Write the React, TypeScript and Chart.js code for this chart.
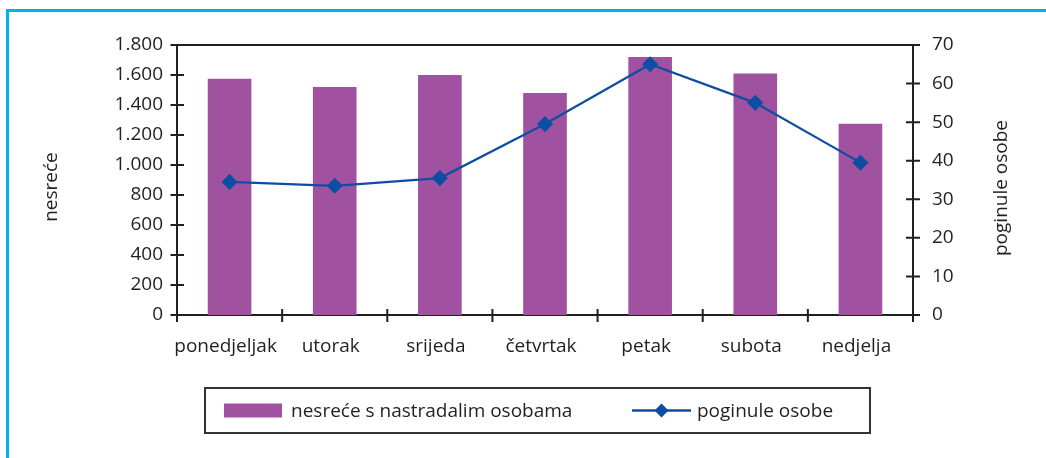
import React, { useEffect, useRef } from 'react';
import { Chart, registerables } from 'chart.js';

Chart.register(...registerables);

// ---- data ----
const days = ['ponedjeljak', 'utorak', 'srijeda', 'četvrtak', 'petak', 'subota', 'nedjelja'];
const accidents = [1575, 1520, 1600, 1480, 1720, 1610, 1275];
const deaths = [34.5, 33.5, 35.5, 49.5, 65, 55, 39.5];
const leftTicks = [0, 200, 400, 600, 800, 1000, 1200, 1400, 1600, 1800];
const rightTicks = [0, 10, 20, 30, 40, 50, 60, 70];
const leftTitle = 'nesreće';
const rightTitle = 'poginule osobe';
const barLabel = 'nesreće s nastradalim osobama';
const lineLabel = 'poginule osobe';

// ---- styles ----
const W = 1046;
const H = 458;
const PLOT = { left: 177, right: 913, top: 45, bottom: 315 };
const FONT = "'Open Sans', sans-serif";
const FONT_SIZE = 19;
const INK = '#231f20';
const BAR = '#a052a0';
const LINE = '#0d4ea3';
const FRAME = '#00b2ef';

function fmt(v: number): string {
  return String(v).replace(/\B(?=(\d{3})+(?!\d))/g, '.');
}

const axesPlugin = {
  id: 'axesFrame',
  beforeDatasetsDraw(chart: any) {
    const { ctx, chartArea: a, scales } = chart;
    const y = scales.y;
    const y1 = scales.y1;
    const x = scales.x;
    ctx.save();
    ctx.strokeStyle = INK;
    ctx.lineWidth = 2;
    ctx.beginPath();
    ctx.rect(a.left, a.top, a.right - a.left, a.bottom - a.top);
    ctx.stroke();
    ctx.beginPath();
    y.ticks.forEach((t: any) => {
      const p = y.getPixelForValue(t.value);
      ctx.moveTo(a.left - 6.5, p);
      ctx.lineTo(a.left + 7, p);
    });
    y1.ticks.forEach((t: any) => {
      const p = y1.getPixelForValue(t.value);
      ctx.moveTo(a.right - 7, p);
      ctx.lineTo(a.right + 7, p);
    });
    const n = x.ticks.length;
    const step = (x.right - x.left) / n;
    for (let i = 0; i <= n; i++) {
      const px = x.left + i * step;
      ctx.moveTo(px, a.bottom - 6);
      ctx.lineTo(px, a.bottom + 7);
    }
    ctx.stroke();
    ctx.restore();
  },
  afterDraw(chart: any) {
    const { ctx, chartArea: a } = chart;
    const midY = (a.top + a.bottom) / 2 + 7;
    ctx.save();
    ctx.fillStyle = INK;
    ctx.font = `${FONT_SIZE}px ${FONT}`;
    ctx.textAlign = 'center';
    ctx.textBaseline = 'alphabetic';
    // left title
    ctx.save();
    ctx.translate(57, midY);
    ctx.rotate(-Math.PI / 2);
    ctx.fillText(leftTitle, 0, 0);
    ctx.restore();
    // right title
    ctx.save();
    ctx.translate(1007, midY + 1);
    ctx.rotate(-Math.PI / 2);
    ctx.fillText(rightTitle, 0, 0);
    ctx.restore();

    // legend
    const ds = chart.data.datasets;
    const bx = 205, by = 388, bw = 665, bh = 45;
    ctx.strokeStyle = '#333333';
    ctx.lineWidth = 2;
    ctx.strokeRect(bx, by, bw, bh);
    const cy = by + bh / 2;
    ctx.fillStyle = ds[0].backgroundColor;
    ctx.fillRect(224, cy - 7, 58, 14);
    ctx.fillStyle = INK;
    ctx.textAlign = 'left';
    ctx.fillText(ds[0].label, 291, cy + 6.5);
    ctx.strokeStyle = ds[1].borderColor;
    ctx.lineWidth = 2.5;
    ctx.beginPath();
    ctx.moveTo(632, cy);
    ctx.lineTo(691, cy);
    ctx.stroke();
    const dx = 661.5, r = 7;
    ctx.fillStyle = ds[1].backgroundColor;
    ctx.beginPath();
    ctx.moveTo(dx - r, cy);
    ctx.lineTo(dx, cy - r);
    ctx.lineTo(dx + r, cy);
    ctx.lineTo(dx, cy + r);
    ctx.closePath();
    ctx.fill();
    ctx.fillStyle = INK;
    ctx.fillText(ds[1].label, 697, cy + 6.5);
    ctx.restore();
  },
};

export default function App() {
  const canvasRef = useRef<HTMLCanvasElement | null>(null);

  useEffect(() => {
    document.body.style.margin = '0';
    document.body.style.overflow = 'hidden';
    const canvas = canvasRef.current;
    if (!canvas) return;
    const tickFont = { family: FONT, size: FONT_SIZE };
    const chart = new Chart(canvas, {
      type: 'bar',
      data: {
        labels: days,
        datasets: [
          {
            type: 'bar',
            label: barLabel,
            data: accidents,
            backgroundColor: BAR,
            borderWidth: 0,
            yAxisID: 'y',
            categoryPercentage: 1,
            barPercentage: 0.415,
            order: 2,
          } as any,
          {
            type: 'line',
            label: lineLabel,
            data: deaths,
            borderColor: LINE,
            backgroundColor: LINE,
            borderWidth: 2.2,
            pointStyle: 'rectRot',
            pointRadius: 7,
            pointBorderWidth: 1.5,
            pointBackgroundColor: LINE,
            pointBorderColor: LINE,
            tension: 0,
            yAxisID: 'y1',
            order: 1,
          } as any,
        ],
      },
      options: {
        animation: false,
        responsive: false,
        maintainAspectRatio: false,
        devicePixelRatio: 1,
        layout: { padding: { top: PLOT.top, left: 0, right: 0, bottom: 0 } },
        plugins: {
          legend: { display: false },
          tooltip: { enabled: false },
        },
        scales: {
          x: {
            grid: { display: false, drawTicks: false },
            border: { display: false },
            ticks: {
              font: tickFont,
              color: INK,
              padding: 20,
              labelOffset: -4,
              maxRotation: 0,
              autoSkip: false,
            },
            afterFit(scale: any) {
              scale.height = H - PLOT.bottom;
              scale.paddingLeft = 0;
              scale.paddingRight = 0;
            },
          },
          y: {
            position: 'left',
            min: leftTicks[0],
            max: leftTicks[leftTicks.length - 1],
            afterBuildTicks(scale: any) {
              scale.ticks = leftTicks.map((v) => ({ value: v }));
            },
            grid: { display: false, drawTicks: false },
            border: { display: false },
            ticks: {
              font: tickFont,
              color: INK,
              padding: 14,
              callback: (v: any) => fmt(Number(v)),
            },
            afterFit(scale: any) {
              scale.width = PLOT.left;
            },
          },
          y1: {
            position: 'right',
            min: rightTicks[0],
            max: rightTicks[rightTicks.length - 1],
            afterBuildTicks(scale: any) {
              scale.ticks = rightTicks.map((v) => ({ value: v }));
            },
            grid: { display: false, drawTicks: false },
            border: { display: false },
            ticks: { font: tickFont, color: INK, padding: 19 },
            afterFit(scale: any) {
              scale.width = W - PLOT.right;
            },
          },
        },
      },
      plugins: [axesPlugin],
    });
    return () => chart.destroy();
  }, []);

  return (
    <div style={{ position: 'relative', width: W, height: H, overflow: 'hidden', background: '#fff' }}>
      <div
        style={{
          position: 'absolute',
          left: 6,
          top: 9,
          width: W + 20,
          height: H + 20,
          borderLeft: `3px solid ${FRAME}`,
          borderTop: `3px solid ${FRAME}`,
          boxSizing: 'border-box',
        }}
      />
      <canvas
        ref={canvasRef}
        width={W}
        height={H}
        style={{ position: 'absolute', left: 0, top: 0, width: W, height: H }}
      />
    </div>
  );
}
